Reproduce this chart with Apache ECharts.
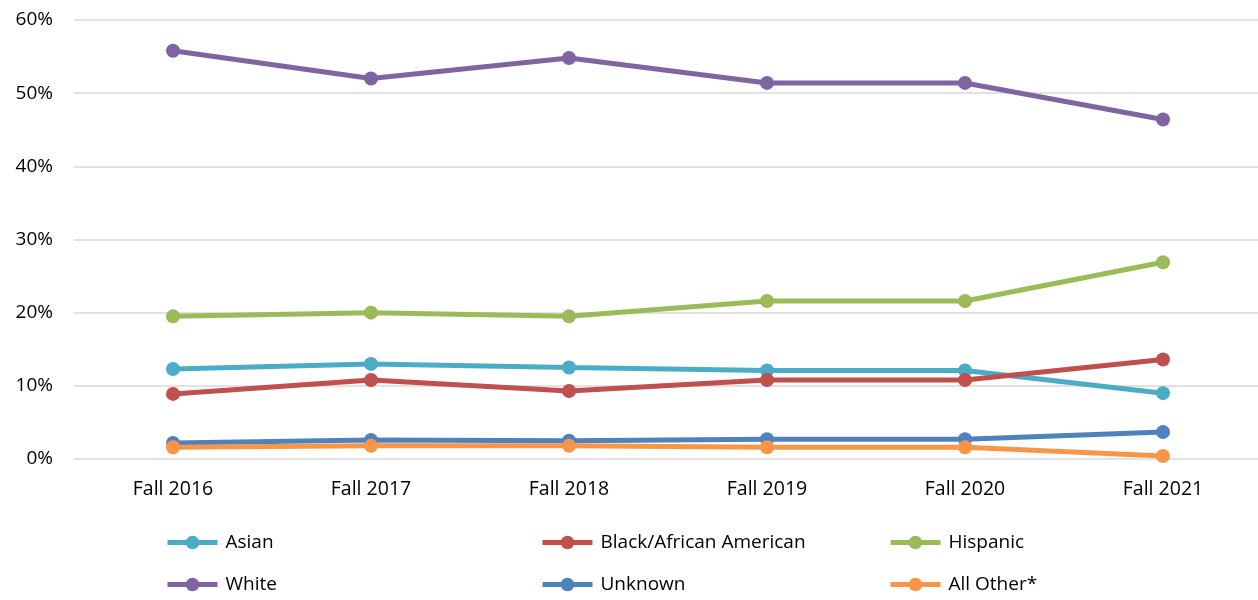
<!DOCTYPE html>
<html>
<head>
<meta charset="utf-8">
<script src="https://cdn.jsdelivr.net/npm/echarts@6/dist/echarts.min.js"></script>
<style>
  html, body { margin: 0; padding: 0; background: #fff; }
  #chart { width: 1258px; height: 600px; }
</style>
</head>
<body>
<div id="chart"></div>
<script>
const categories = ['Fall 2016', 'Fall 2017', 'Fall 2018', 'Fall 2019', 'Fall 2020', 'Fall 2021']
const asian = [12.3, 13.0, 12.5, 12.1, 12.1, 9.0]
const black = [8.9, 10.8, 9.3, 10.8, 10.8, 13.6]
const hispanic = [19.5, 20.0, 19.5, 21.6, 21.6, 26.9]
const white = [55.8, 52.0, 54.8, 51.4, 51.4, 46.4]
const unknown = [2.2, 2.6, 2.5, 2.7, 2.7, 3.7]
const allOther = [1.6, 1.8, 1.8, 1.6, 1.6, 0.4]

const font = '"Open Sans", Lato, sans-serif'

const makeSeries = (name, color, data, z) => ({
  name: name,
  type: 'line',
  data: data,
  z: z,
  symbol: 'circle',
  symbolSize: 14,
  lineStyle: { width: 5, color: color },
  itemStyle: { color: color },
  emphasis: { disabled: true }
})

// one legend per item so the 3x2 layout matches the original
const legendItem = (left, top, name) => ({
  left: left,
  top: top,
  padding: 0,
  itemWidth: 50,
  itemHeight: 17,
  itemGap: 0,
  data: [name],
  lineStyle: { width: 5 },
  textStyle: { fontFamily: font, fontSize: 19, color: '#000', padding: [0, 0, 0, 3] }
})

const chart = echarts.init(document.getElementById('chart'))
chart.setOption({
  backgroundColor: '#fff',
  animation: false,
  grid: {
    left: 74,
    top: 20,
    width: 1188,
    height: 439,
    outerBoundsMode: 'none'
  },
  legend: [
    legendItem(165, 533, 'Asian'),
    legendItem(540, 533, 'Black/African American'),
    legendItem(888, 533, 'Hispanic'),
    legendItem(165, 575, 'White'),
    legendItem(540, 575, 'Unknown'),
    legendItem(888, 575, 'All Other*')
  ],
  xAxis: {
    type: 'category',
    data: categories,
    boundaryGap: true,
    axisLine: { show: false },
    axisTick: { show: false },
    axisLabel: { margin: 20, fontFamily: font, fontSize: 19.5, color: '#000' }
  },
  yAxis: {
    type: 'value',
    min: 0,
    max: 60,
    interval: 10,
    axisLine: { show: false },
    axisTick: { show: false },
    splitLine: { lineStyle: { color: '#d9d9d9', width: 1.5 } },
    axisLabel: {
      margin: 21,
      formatter: '{value}%',
      fontFamily: font,
      fontSize: 19,
      color: '#000'
    }
  },
  series: [
    makeSeries('Asian', '#4BACC6', asian, 2),
    makeSeries('Black/African American', '#C0504D', black, 3),
    makeSeries('Hispanic', '#9BBB59', hispanic, 4),
    makeSeries('White', '#8064A2', white, 5),
    makeSeries('Unknown', '#4F81BD', unknown, 6),
    makeSeries('All Other*', '#F79646', allOther, 7)
  ]
})
</script>
</body>
</html>
